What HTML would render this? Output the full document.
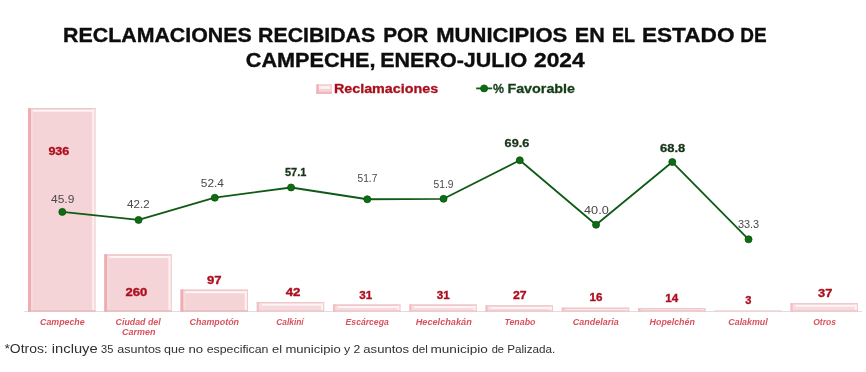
<!DOCTYPE html>
<html><head><meta charset="utf-8"><style>
html,body{margin:0;padding:0;background:#fff;width:866px;height:372px;overflow:hidden}
svg{display:block;will-change:transform}
text{font-family:"Liberation Sans",sans-serif;white-space:pre}
</style></head><body>
<svg width="866" height="372" viewBox="0 0 866 372">
<rect width="866" height="372" fill="#fff"/>
<rect x="24.2" y="311" width="838" height="1" fill="#dedede"/>
<rect x="28.00" y="108.10" width="67.40" height="203.40" fill="#f4d4d7"/>
<rect x="28.00" y="108.10" width="67.40" height="1.5" fill="#edc8cb"/>
<rect x="31.00" y="109.70" width="62.90" height="2.00" fill="#fff5f6"/>
<rect x="94.40" y="108.10" width="1" height="203.40" fill="#f1c8cc"/>
<rect x="92.20" y="109.40" width="2.2" height="201.10" fill="#fff0f1"/>
<rect x="28.00" y="108.10" width="3" height="203.40" fill="#efadb3"/>
<rect x="31.00" y="109.40" width="2" height="201.10" fill="#f8dadd"/>
<rect x="28.00" y="310.50" width="67.40" height="1" fill="#e3acb1"/>
<rect x="104.25" y="254.35" width="67.40" height="57.15" fill="#f4d4d7"/>
<rect x="104.25" y="254.35" width="67.40" height="1.5" fill="#edc8cb"/>
<rect x="107.25" y="255.95" width="62.90" height="2.00" fill="#fff5f6"/>
<rect x="170.65" y="254.35" width="1" height="57.15" fill="#f1c8cc"/>
<rect x="168.45" y="255.65" width="2.2" height="54.85" fill="#fff0f1"/>
<rect x="104.25" y="254.35" width="3" height="57.15" fill="#efadb3"/>
<rect x="107.25" y="255.65" width="2" height="54.85" fill="#f8dadd"/>
<rect x="104.25" y="310.50" width="67.40" height="1" fill="#e3acb1"/>
<rect x="180.50" y="289.61" width="67.40" height="21.89" fill="#f4d4d7"/>
<rect x="180.50" y="289.61" width="67.40" height="1.5" fill="#edc8cb"/>
<rect x="183.50" y="291.21" width="62.90" height="2.00" fill="#fff5f6"/>
<rect x="246.90" y="289.61" width="1" height="21.89" fill="#f1c8cc"/>
<rect x="244.70" y="290.91" width="2.2" height="19.59" fill="#fff0f1"/>
<rect x="180.50" y="289.61" width="3" height="21.89" fill="#efadb3"/>
<rect x="183.50" y="290.91" width="2" height="19.59" fill="#f8dadd"/>
<rect x="180.50" y="310.50" width="67.40" height="1" fill="#e3acb1"/>
<rect x="256.75" y="302.01" width="67.40" height="9.49" fill="#f6dadd"/>
<rect x="256.75" y="302.01" width="67.40" height="1.5" fill="#edc8cb"/>
<rect x="259.75" y="303.61" width="62.90" height="2.00" fill="#fff5f6"/>
<rect x="323.15" y="302.01" width="1" height="9.49" fill="#f1c8cc"/>
<rect x="320.95" y="303.31" width="2.2" height="7.19" fill="#fff0f1"/>
<rect x="256.75" y="302.01" width="2.2" height="9.49" fill="#f2c0c4"/>
<rect x="259.75" y="303.31" width="2" height="7.19" fill="#f8dadd"/>
<rect x="256.75" y="310.50" width="67.40" height="1" fill="#ebbcc0"/>
<rect x="333.00" y="304.39" width="67.40" height="7.11" fill="#f6dadd"/>
<rect x="333.00" y="304.39" width="67.40" height="1.5" fill="#edc8cb"/>
<rect x="336.00" y="305.99" width="62.90" height="2.00" fill="#fff5f6"/>
<rect x="399.40" y="304.39" width="1" height="7.11" fill="#f1c8cc"/>
<rect x="397.20" y="305.69" width="2.2" height="4.81" fill="#fff0f1"/>
<rect x="333.00" y="304.39" width="2.2" height="7.11" fill="#f2c0c4"/>
<rect x="336.00" y="305.69" width="2" height="4.81" fill="#f8dadd"/>
<rect x="333.00" y="310.50" width="67.40" height="1" fill="#ebbcc0"/>
<rect x="409.25" y="304.39" width="67.40" height="7.11" fill="#f6dadd"/>
<rect x="409.25" y="304.39" width="67.40" height="1.5" fill="#edc8cb"/>
<rect x="412.25" y="305.99" width="62.90" height="2.00" fill="#fff5f6"/>
<rect x="475.65" y="304.39" width="1" height="7.11" fill="#f1c8cc"/>
<rect x="473.45" y="305.69" width="2.2" height="4.81" fill="#fff0f1"/>
<rect x="409.25" y="304.39" width="2.2" height="7.11" fill="#f2c0c4"/>
<rect x="412.25" y="305.69" width="2" height="4.81" fill="#f8dadd"/>
<rect x="409.25" y="310.50" width="67.40" height="1" fill="#ebbcc0"/>
<rect x="485.50" y="305.26" width="67.40" height="6.24" fill="#f6dadd"/>
<rect x="485.50" y="305.26" width="67.40" height="1.5" fill="#edc8cb"/>
<rect x="488.50" y="306.86" width="62.90" height="2.00" fill="#fff5f6"/>
<rect x="551.90" y="305.26" width="1" height="6.24" fill="#f1c8cc"/>
<rect x="549.70" y="306.56" width="2.2" height="3.94" fill="#fff0f1"/>
<rect x="485.50" y="305.26" width="2.2" height="6.24" fill="#f2c0c4"/>
<rect x="488.50" y="306.56" width="2" height="3.94" fill="#f8dadd"/>
<rect x="485.50" y="310.50" width="67.40" height="1" fill="#ebbcc0"/>
<rect x="561.75" y="307.64" width="67.40" height="3.86" fill="#f6dadd"/>
<rect x="561.75" y="307.64" width="67.40" height="1.5" fill="#edc8cb"/>
<rect x="564.75" y="309.24" width="62.90" height="0.86" fill="#fff5f6"/>
<rect x="628.15" y="307.64" width="1" height="3.86" fill="#f1c8cc"/>
<rect x="625.95" y="308.94" width="2.2" height="1.56" fill="#fff0f1"/>
<rect x="561.75" y="307.64" width="2.2" height="3.86" fill="#f2c0c4"/>
<rect x="564.75" y="308.94" width="2" height="1.56" fill="#f8dadd"/>
<rect x="561.75" y="310.50" width="67.40" height="1" fill="#ebbcc0"/>
<rect x="638.00" y="308.07" width="67.40" height="3.43" fill="#f6dadd"/>
<rect x="638.00" y="308.07" width="67.40" height="1.5" fill="#edc8cb"/>
<rect x="641.00" y="309.67" width="62.90" height="0.43" fill="#fff5f6"/>
<rect x="704.40" y="308.07" width="1" height="3.43" fill="#f1c8cc"/>
<rect x="702.20" y="309.37" width="2.2" height="1.13" fill="#fff0f1"/>
<rect x="638.00" y="308.07" width="2.2" height="3.43" fill="#f2c0c4"/>
<rect x="641.00" y="309.37" width="2" height="1.13" fill="#f8dadd"/>
<rect x="638.00" y="310.50" width="67.40" height="1" fill="#ebbcc0"/>
<rect x="714.25" y="310.45" width="67.40" height="1.05" fill="#f6dadd"/>
<rect x="714.25" y="310.50" width="67.40" height="1" fill="#f0cdd0"/>
<rect x="790.50" y="303.10" width="67.40" height="8.40" fill="#f6dadd"/>
<rect x="790.50" y="303.10" width="67.40" height="1.5" fill="#edc8cb"/>
<rect x="793.50" y="304.70" width="62.90" height="2.00" fill="#fff5f6"/>
<rect x="856.90" y="303.10" width="1" height="8.40" fill="#f1c8cc"/>
<rect x="854.70" y="304.40" width="2.2" height="6.10" fill="#fff0f1"/>
<rect x="790.50" y="303.10" width="2.2" height="8.40" fill="#f2c0c4"/>
<rect x="793.50" y="304.40" width="2" height="6.10" fill="#f8dadd"/>
<rect x="790.50" y="310.50" width="67.40" height="1" fill="#ebbcc0"/>
<polyline points="62.30,211.88 138.55,219.93 214.80,197.73 291.05,187.49 367.30,199.25 443.55,198.81 519.80,160.28 596.05,224.72 672.30,162.02 748.55,239.31" fill="none" stroke="#0f5a15" stroke-width="1.8" stroke-linejoin="round"/>
<circle cx="62.30" cy="211.88" r="3.5" fill="#0b6e10" stroke="#0d4f12" stroke-width="0.8"/>
<circle cx="138.55" cy="219.93" r="3.5" fill="#0b6e10" stroke="#0d4f12" stroke-width="0.8"/>
<circle cx="214.80" cy="197.73" r="3.5" fill="#0b6e10" stroke="#0d4f12" stroke-width="0.8"/>
<circle cx="291.05" cy="187.49" r="3.5" fill="#0b6e10" stroke="#0d4f12" stroke-width="0.8"/>
<circle cx="367.30" cy="199.25" r="3.5" fill="#0b6e10" stroke="#0d4f12" stroke-width="0.8"/>
<circle cx="443.55" cy="198.81" r="3.5" fill="#0b6e10" stroke="#0d4f12" stroke-width="0.8"/>
<circle cx="519.80" cy="160.28" r="3.5" fill="#0b6e10" stroke="#0d4f12" stroke-width="0.8"/>
<circle cx="596.05" cy="224.72" r="3.5" fill="#0b6e10" stroke="#0d4f12" stroke-width="0.8"/>
<circle cx="672.30" cy="162.02" r="3.5" fill="#0b6e10" stroke="#0d4f12" stroke-width="0.8"/>
<circle cx="748.55" cy="239.31" r="3.5" fill="#0b6e10" stroke="#0d4f12" stroke-width="0.8"/>
<rect x="316.4" y="84.4" width="15.4" height="9.6" fill="#f4d4d7"/>
<rect x="316.4" y="84.4" width="15.4" height="1" fill="#f2cdd1"/>
<rect x="316.4" y="84.4" width="2.2" height="9.6" fill="#efb0b6"/>
<rect x="319" y="86.2" width="11.2" height="2.6" fill="#fff3f4"/>
<rect x="330.8" y="84.4" width="1" height="9.6" fill="#f3cfd2"/>
<rect x="316.4" y="91.8" width="15.4" height="2.2" fill="#efb6bb"/>
<line x1="476.2" y1="88.4" x2="492.2" y2="88.4" stroke="#0f5a15" stroke-width="1.8"/>
<circle cx="484.1" cy="88.4" r="3.5" fill="#0b6e10" stroke="#0d4f12" stroke-width="0.8"/>
<text x="63.11" y="41.7" textLength="188.6" lengthAdjust="spacingAndGlyphs" font-size="19.5" font-weight="bold" font-style="normal" fill="#0d0d0d" stroke="#0d0d0d" stroke-width="0.35">RECLAMACIONES</text>
<text x="258.11" y="41.7" textLength="117.0" lengthAdjust="spacingAndGlyphs" font-size="19.5" font-weight="bold" font-style="normal" fill="#0d0d0d" stroke="#0d0d0d" stroke-width="0.35">RECIBIDAS</text>
<text x="383.23" y="41.7" textLength="45.05" lengthAdjust="spacingAndGlyphs" font-size="19.5" font-weight="bold" font-style="normal" fill="#0d0d0d" stroke="#0d0d0d" stroke-width="0.35">POR</text>
<text x="436.27" y="41.7" textLength="131.04" lengthAdjust="spacingAndGlyphs" font-size="19.5" font-weight="bold" font-style="normal" fill="#0d0d0d" stroke="#0d0d0d" stroke-width="0.35">MUNICIPIOS</text>
<text x="574.79" y="41.7" textLength="30.01" lengthAdjust="spacingAndGlyphs" font-size="19.5" font-weight="bold" font-style="normal" fill="#0d0d0d" stroke="#0d0d0d" stroke-width="0.35">EN</text>
<text x="611.88" y="41.7" textLength="23.04" lengthAdjust="spacingAndGlyphs" font-size="19.5" font-weight="bold" font-style="normal" fill="#0d0d0d" stroke="#0d0d0d" stroke-width="0.35">EL</text>
<text x="641.94" y="41.7" textLength="92.55" lengthAdjust="spacingAndGlyphs" font-size="19.5" font-weight="bold" font-style="normal" fill="#0d0d0d" stroke="#0d0d0d" stroke-width="0.35">ESTADO</text>
<text x="740.33" y="41.7" textLength="26.38" lengthAdjust="spacingAndGlyphs" font-size="19.5" font-weight="bold" font-style="normal" fill="#0d0d0d" stroke="#0d0d0d" stroke-width="0.35">DE</text>
<text x="245.8" y="66.6" textLength="129.76" lengthAdjust="spacingAndGlyphs" font-size="19.5" font-weight="bold" font-style="normal" fill="#0d0d0d" stroke="#0d0d0d" stroke-width="0.35">CAMPECHE,</text>
<text x="380.2" y="66.6" textLength="146.99" lengthAdjust="spacingAndGlyphs" font-size="19.5" font-weight="bold" font-style="normal" fill="#0d0d0d" stroke="#0d0d0d" stroke-width="0.35">ENERO-JULIO</text>
<text x="534.0" y="66.6" textLength="50.62" lengthAdjust="spacingAndGlyphs" font-size="19.5" font-weight="bold" font-style="normal" fill="#0d0d0d" stroke="#0d0d0d" stroke-width="0.35">2024</text>
<text x="333.9" y="92.9" textLength="104.34" lengthAdjust="spacingAndGlyphs" font-size="13.5" font-weight="bold" font-style="normal" fill="#a80f1c" stroke="#a80f1c" stroke-width="0.3">Reclamaciones</text>
<text x="492.9" y="93.0" textLength="11.0" lengthAdjust="spacingAndGlyphs" font-size="13.5" font-weight="bold" font-style="normal" fill="#143d18" stroke="#143d18" stroke-width="0.3">%</text>
<text x="507.4" y="93.0" textLength="67.68" lengthAdjust="spacingAndGlyphs" font-size="13.5" font-weight="bold" font-style="normal" fill="#143d18" stroke="#143d18" stroke-width="0.3">Favorable</text>
<text x="51.1" y="202.7" textLength="23.24" lengthAdjust="spacingAndGlyphs" font-size="11.2" font-weight="normal" font-style="normal" fill="#484848">45.9</text>
<text x="127.1" y="207.7" textLength="22.53" lengthAdjust="spacingAndGlyphs" font-size="11.2" font-weight="normal" font-style="normal" fill="#484848">42.2</text>
<text x="200.8" y="186.5" textLength="23.14" lengthAdjust="spacingAndGlyphs" font-size="11.2" font-weight="normal" font-style="normal" fill="#484848">52.4</text>
<text x="357.5" y="181.6" textLength="19.8" lengthAdjust="spacingAndGlyphs" font-size="11.2" font-weight="normal" font-style="normal" fill="#484848">51.7</text>
<text x="433.5" y="188.2" textLength="20.0" lengthAdjust="spacingAndGlyphs" font-size="11.2" font-weight="normal" font-style="normal" fill="#484848">51.9</text>
<text x="584.0" y="213.8" textLength="24.75" lengthAdjust="spacingAndGlyphs" font-size="11.2" font-weight="normal" font-style="normal" fill="#484848">40.0</text>
<text x="737.9" y="228.4" textLength="21.32" lengthAdjust="spacingAndGlyphs" font-size="11.2" font-weight="normal" font-style="normal" fill="#484848">33.3</text>
<text x="285.0" y="175.5" textLength="21.42" lengthAdjust="spacingAndGlyphs" font-size="11.2" font-weight="bold" font-style="normal" fill="#183419" stroke="#183419" stroke-width="0.3">57.1</text>
<text x="504.6" y="146.75" textLength="24.65" lengthAdjust="spacingAndGlyphs" font-size="11.2" font-weight="bold" font-style="normal" fill="#183419" stroke="#183419" stroke-width="0.3">69.6</text>
<text x="660.0" y="151.9" textLength="25.26" lengthAdjust="spacingAndGlyphs" font-size="11.2" font-weight="bold" font-style="normal" fill="#183419" stroke="#183419" stroke-width="0.3">68.8</text>
<text x="48.4" y="154.9" textLength="20.9" lengthAdjust="spacingAndGlyphs" font-size="11.6" font-weight="bold" font-style="normal" fill="#ad0f1e" stroke="#ad0f1e" stroke-width="0.35">936</text>
<text x="125.5" y="295.8" textLength="21.8" lengthAdjust="spacingAndGlyphs" font-size="11.6" font-weight="bold" font-style="normal" fill="#ad0f1e" stroke="#ad0f1e" stroke-width="0.35">260</text>
<text x="207.0" y="284" textLength="14.61" lengthAdjust="spacingAndGlyphs" font-size="11.6" font-weight="bold" font-style="normal" fill="#ad0f1e" stroke="#ad0f1e" stroke-width="0.35">97</text>
<text x="285.7" y="295.7" textLength="14.81" lengthAdjust="spacingAndGlyphs" font-size="11.6" font-weight="bold" font-style="normal" fill="#ad0f1e" stroke="#ad0f1e" stroke-width="0.35">42</text>
<text x="359.33" y="298.5" font-size="11.6" font-weight="bold" font-style="normal" fill="#ad0f1e" stroke="#ad0f1e" stroke-width="0.35">31</text>
<text x="436.73" y="298.5" font-size="11.6" font-weight="bold" font-style="normal" fill="#ad0f1e" stroke="#ad0f1e" stroke-width="0.35">31</text>
<text x="513.0" y="298.9" textLength="13.67" lengthAdjust="spacingAndGlyphs" font-size="11.6" font-weight="bold" font-style="normal" fill="#ad0f1e" stroke="#ad0f1e" stroke-width="0.35">27</text>
<text x="589.48" y="301.2" font-size="11.6" font-weight="bold" font-style="normal" fill="#ad0f1e" stroke="#ad0f1e" stroke-width="0.35">16</text>
<text x="665.28" y="301.6" font-size="11.6" font-weight="bold" font-style="normal" fill="#ad0f1e" stroke="#ad0f1e" stroke-width="0.35">14</text>
<text x="745.2" y="304.2" textLength="6.17" lengthAdjust="spacingAndGlyphs" font-size="11.6" font-weight="bold" font-style="normal" fill="#ad0f1e" stroke="#ad0f1e" stroke-width="0.35">3</text>
<text x="818.0" y="296.6" textLength="14.3" lengthAdjust="spacingAndGlyphs" font-size="11.6" font-weight="bold" font-style="normal" fill="#ad0f1e" stroke="#ad0f1e" stroke-width="0.35">37</text>
<text x="40.0" y="324.9" textLength="44.69" lengthAdjust="spacingAndGlyphs" font-size="8.3" font-weight="bold" font-style="italic" fill="#d8525d">Campeche</text>
<text x="115.6" y="324.9" textLength="45.06" lengthAdjust="spacingAndGlyphs" font-size="8.3" font-weight="bold" font-style="italic" fill="#d8525d">Ciudad del</text>
<text x="122.0" y="334.9" textLength="33.37" lengthAdjust="spacingAndGlyphs" font-size="8.3" font-weight="bold" font-style="italic" fill="#d8525d">Carmen</text>
<text x="189.6" y="324.9" textLength="49.47" lengthAdjust="spacingAndGlyphs" font-size="8.3" font-weight="bold" font-style="italic" fill="#d8525d">Champotón</text>
<text x="276.3" y="324.9" textLength="27.39" lengthAdjust="spacingAndGlyphs" font-size="8.3" font-weight="bold" font-style="italic" fill="#d8525d">Calkiní</text>
<text x="345.6" y="324.9" textLength="43.1" lengthAdjust="spacingAndGlyphs" font-size="8.3" font-weight="bold" font-style="italic" fill="#d8525d">Escárcega</text>
<text x="415.7" y="324.9" textLength="56.08" lengthAdjust="spacingAndGlyphs" font-size="8.3" font-weight="bold" font-style="italic" fill="#d8525d">Hecelchakán</text>
<text x="504.4" y="324.9" textLength="31.07" lengthAdjust="spacingAndGlyphs" font-size="8.3" font-weight="bold" font-style="italic" fill="#d8525d">Tenabo</text>
<text x="572.8" y="324.9" textLength="45.88" lengthAdjust="spacingAndGlyphs" font-size="8.3" font-weight="bold" font-style="italic" fill="#d8525d">Candelaria</text>
<text x="649.6" y="324.9" textLength="45.27" lengthAdjust="spacingAndGlyphs" font-size="8.3" font-weight="bold" font-style="italic" fill="#d8525d">Hopelchén</text>
<text x="728.3" y="324.9" textLength="39.46" lengthAdjust="spacingAndGlyphs" font-size="8.3" font-weight="bold" font-style="italic" fill="#d8525d">Calakmul</text>
<text x="813.2" y="324.9" textLength="22.8" lengthAdjust="spacingAndGlyphs" font-size="8.3" font-weight="bold" font-style="italic" fill="#d8525d">Otros</text>
<text x="4.4" y="353" textLength="43.35" lengthAdjust="spacingAndGlyphs" font-size="13.4" font-weight="normal" font-style="normal" fill="#303030">*Otros:</text>
<text x="51.8" y="353" textLength="45.89" lengthAdjust="spacingAndGlyphs" font-size="13.4" font-weight="normal" font-style="normal" fill="#303030">incluye</text>
<text x="101.1" y="353" textLength="12.29" lengthAdjust="spacingAndGlyphs" font-size="10.6" font-weight="normal" font-style="normal" fill="#303030">35</text>
<text x="117.2" y="353" textLength="43.95" lengthAdjust="spacingAndGlyphs" font-size="10.6" font-weight="normal" font-style="normal" fill="#303030">asuntos</text>
<text x="164.0" y="353" textLength="20.87" lengthAdjust="spacingAndGlyphs" font-size="10.6" font-weight="normal" font-style="normal" fill="#303030">que</text>
<text x="188.5" y="353" textLength="14.67" lengthAdjust="spacingAndGlyphs" font-size="10.6" font-weight="normal" font-style="normal" fill="#303030">no</text>
<text x="206.7" y="353" textLength="61.77" lengthAdjust="spacingAndGlyphs" font-size="10.6" font-weight="normal" font-style="normal" fill="#303030">especifican</text>
<text x="272.0" y="353" textLength="10.03" lengthAdjust="spacingAndGlyphs" font-size="10.6" font-weight="normal" font-style="normal" fill="#303030">el</text>
<text x="285.4" y="353" textLength="55.27" lengthAdjust="spacingAndGlyphs" font-size="10.6" font-weight="normal" font-style="normal" fill="#303030">municipio</text>
<text x="343.9" y="353" textLength="6.18" lengthAdjust="spacingAndGlyphs" font-size="10.6" font-weight="normal" font-style="normal" fill="#303030">y</text>
<text x="353.5" y="353" textLength="6.78" lengthAdjust="spacingAndGlyphs" font-size="10.6" font-weight="normal" font-style="normal" fill="#303030">2</text>
<text x="363.3" y="353" textLength="45.87" lengthAdjust="spacingAndGlyphs" font-size="10.6" font-weight="normal" font-style="normal" fill="#303030">asuntos</text>
<text x="412.3" y="353" textLength="15.49" lengthAdjust="spacingAndGlyphs" font-size="10.6" font-weight="normal" font-style="normal" fill="#303030">del</text>
<text x="430.5" y="353" textLength="57.36" lengthAdjust="spacingAndGlyphs" font-size="10.6" font-weight="normal" font-style="normal" fill="#303030">municipio</text>
<text x="491.7" y="353" textLength="12.39" lengthAdjust="spacingAndGlyphs" font-size="10.6" font-weight="normal" font-style="normal" fill="#303030">de</text>
<text x="507.2" y="353" textLength="48.14" lengthAdjust="spacingAndGlyphs" font-size="10.6" font-weight="normal" font-style="normal" fill="#303030">Palizada.</text>
</svg>
</body></html>
